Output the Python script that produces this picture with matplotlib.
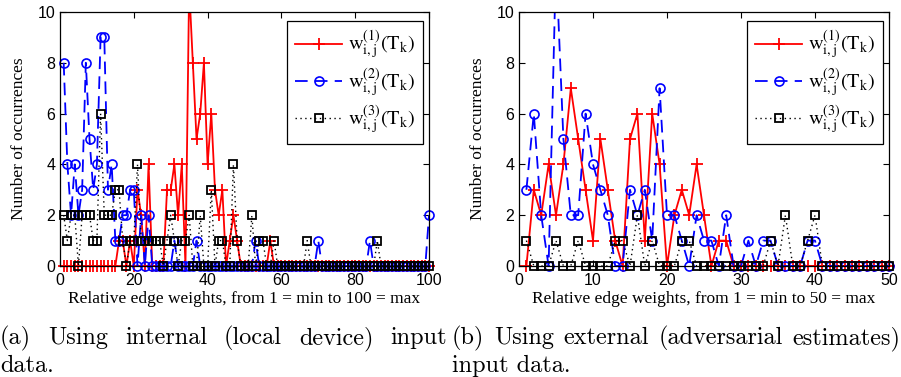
import matplotlib
matplotlib.use('Agg')
import matplotlib.pyplot as plt
from matplotlib.lines import Line2D
import numpy as np

plt.rcParams['mathtext.fontset'] = 'stix'

# (a) internal input data, weights 1..100
x_a = np.arange(1, 101)
red_a = [0, 0, 0, 0, 0, 0, 0, 0, 0, 0, 0, 0, 0, 0, 0, 1, 1, 0, 1, 0,
         3, 2, 0, 4, 0, 0, 0, 0, 3, 3, 4, 2, 4, 0, 11, 8, 5, 6, 8, 4,
         6, 3, 2, 3, 0, 1, 2, 1, 0, 0, 0, 0, 0, 0, 0, 0, 1, 0, 0, 0,
         0, 0, 0, 0, 0, 0, 0, 0, 0, 0, 0, 0, 0, 0, 0, 0, 0, 0, 0, 0,
         0, 0, 0, 0, 0, 0, 0, 0, 0, 0, 0, 0, 0, 0, 0, 0, 0, 0, 0, 0]
blue_a = [8, 4, 2, 4, 2, 3, 8, 5, 3, 4, 9, 9, 3, 4, 1, 1, 2, 2, 3, 3,
          0, 2, 0, 2, 0, 0, 0, 0, 0, 0, 1, 0, 0, 0, 0, 0, 1, 0, 0, 0,
          0, 0, 0, 0, 0, 0, 0, 0, 0, 0, 0, 0, 1, 0, 0, 0, 0, 0, 0, 0,
          0, 0, 0, 0, 0, 0, 0, 0, 0, 1, 0, 0, 0, 0, 0, 0, 0, 0, 0, 0,
          0, 0, 0, 1, 0, 0, 0, 0, 0, 0, 0, 0, 0, 0, 0, 0, 0, 0, 0, 2]
black_a = [2, 1, 2, 2, 0, 2, 2, 2, 1, 1, 6, 2, 2, 2, 3, 3, 1, 0, 1, 1,
           4, 1, 1, 1, 1, 1, 1, 0, 1, 2, 1, 0, 1, 1, 2, 0, 0, 2, 0, 0,
           3, 0, 1, 1, 0, 0, 4, 1, 0, 0, 0, 2, 0, 1, 1, 0, 0, 1, 0, 0,
           0, 0, 0, 0, 0, 0, 1, 0, 0, 0, 0, 0, 0, 0, 0, 0, 0, 0, 0, 0,
           0, 0, 0, 0, 0, 1, 0, 0, 0, 0, 0, 0, 0, 0, 0, 0, 0, 0, 0, 0]

# (b) external input data, weights 1..50
x_b = np.arange(1, 51)
red_b = [0, 3, 2, 4, 2, 4, 7, 5, 3, 1, 5, 3, 1, 0, 5, 6, 1, 6, 4, 0,
         2, 3, 2, 4, 2, 0, 1, 1, 0, 0, 0, 0, 0, 0, 0, 0, 0, 0, 0, 0,
         0, 0, 0, 0, 0, 0, 0, 0, 0, 0]
blue_b = [3, 6, 2, 0, 12, 5, 2, 2, 6, 4, 3, 2, 0, 0, 3, 2, 3, 1, 7, 2,
          2, 1, 0, 2, 1, 1, 0, 2, 0, 0, 1, 0, 1, 1, 0, 0, 0, 0, 1, 1,
          0, 0, 0, 0, 0, 0, 0, 0, 0, 0]
black_b = [1, 0, 0, 0, 1, 0, 0, 1, 0, 0, 0, 0, 1, 1, 0, 2, 0, 1, 0, 0,
           0, 1, 1, 0, 0, 0, 0, 0, 0, 0, 0, 0, 0, 1, 0, 2, 0, 0, 1, 2,
           0, 0, 0, 0, 0, 0, 0, 0, 0, 0]

labels = [r'$\mathrm{w}_{\mathrm{i,j}}^{(1)}(\mathrm{T}_{\mathrm{k}})$',
          r'$\mathrm{w}_{\mathrm{i,j}}^{(2)}(\mathrm{T}_{\mathrm{k}})$',
          r'$\mathrm{w}_{\mathrm{i,j}}^{(3)}(\mathrm{T}_{\mathrm{k}})$']

styles = [
    dict(color='#ff0000', ls='-', lw=1.3, marker='+', ms=8, mew=1.3),
    dict(color='#0000ff', ls='--', lw=1.3, marker='o', ms=6.5, mew=1.2, dashes=(7, 4)),
    dict(color='black', ls=':', lw=1.0, marker='s', ms=6, mew=1.3, dashes=(1, 2.5)),
]

W, H = 901, 377
fig = plt.figure(figsize=(W / 100, H / 100), dpi=100)
ax_a = fig.add_axes([60 / W, (H - 266) / H, 369 / W, 254 / H])
ax_b = fig.add_axes([519 / W, (H - 266) / H, 370 / W, 254 / H])


def draw(ax, x, series, xmax, xstep, xlabel):
    for y, st in zip(series, styles):
        y = np.array(y, dtype=float)
        line_kw = dict(color=st['color'], ls=st['ls'], lw=st['lw'])
        if 'dashes' in st:
            line_kw['dashes'] = st['dashes']
        ax.plot(x, y, **line_kw)
        ym = np.where(y <= 10, y, np.nan)
        ax.plot(x, ym, ls='none', marker=st['marker'], ms=st['ms'], mew=st['mew'],
                color=st['color'], mfc='none', clip_on=False)
    ax.set_xlim(0, xmax)
    ax.set_ylim(0, 10)
    ax.set_xticks(np.arange(0, xmax + 1, xstep))
    ax.set_yticks(np.arange(0, 11, 2))
    ax.tick_params(direction='in', top=True, right=True, length=4, width=0.8,
                   labelsize=11.5, labelfontfamily='Liberation Sans')
    ax.tick_params(axis='x', pad=5)
    for s in ax.spines.values():
        s.set_linewidth(0.9)
    ax.set_xlabel(xlabel, fontsize=12.5, family='Liberation Serif')
    ax.set_ylabel('Number of occurrences', fontsize=12.5, family='Liberation Serif')
    ax.xaxis.set_label_coords(0.5, -0.10)
    ax.yaxis.set_label_coords(-0.09, 0.5)

    handles = []
    for st in styles:
        kw = dict(color=st['color'], ls=st['ls'], lw=st['lw'], marker=st['marker'],
                  ms=st['ms'], mew=st['mew'], mfc='none')
        if 'dashes' in st:
            kw['dashes'] = st['dashes']
        handles.append(Line2D([], [], **kw))
    leg = ax.legend(handles, labels, loc='upper right', bbox_to_anchor=(0.9837, 0.9646),
                    borderaxespad=0, fancybox=False, framealpha=1, edgecolor='black',
                    fontsize=14.5, handlelength=2.3, handletextpad=0.3, labelspacing=0.25,
                    borderpad=0.4, numpoints=1)
    leg.get_frame().set_linewidth(0.9)


draw(ax_a, x_a, [red_a, blue_a, black_a], 100, 20,
     'Relative edge weights, from 1 = min to 100 = max')
draw(ax_b, x_b, [red_b, blue_b, black_b], 50, 10,
     'Relative edge weights, from 1 = min to 50 = max')

# sub-captions, LaTeX style justified text
cap_kw = dict(family='cmr10', fontsize=17.5, va='baseline', ha='left')


def justify(words, x0, x1, y):
    texts = [fig.text(0, 1 - y / H, w, **cap_kw) for w in words]
    r = fig.canvas.get_renderer()
    widths = [t.get_window_extent(renderer=r).width for t in texts]
    gap = (x1 - x0 - sum(widths)) / (len(words) - 1)
    pos = x0
    for t, w in zip(texts, widths):
        t.set_x(pos / W)
        pos += w + gap


justify(['(a)', 'Using', 'internal', '(local', 'device)', 'input'], 0, 447, 344)
fig.text(0, 1 - 372 / H, 'data.', **cap_kw)
justify(['(b)', 'Using', 'external', '(adversarial', 'estimates)'], 452, 900, 344)
fig.text(452 / W, 1 - 372 / H, 'input data.', **cap_kw)

fig.savefig('out.png', dpi=100)
